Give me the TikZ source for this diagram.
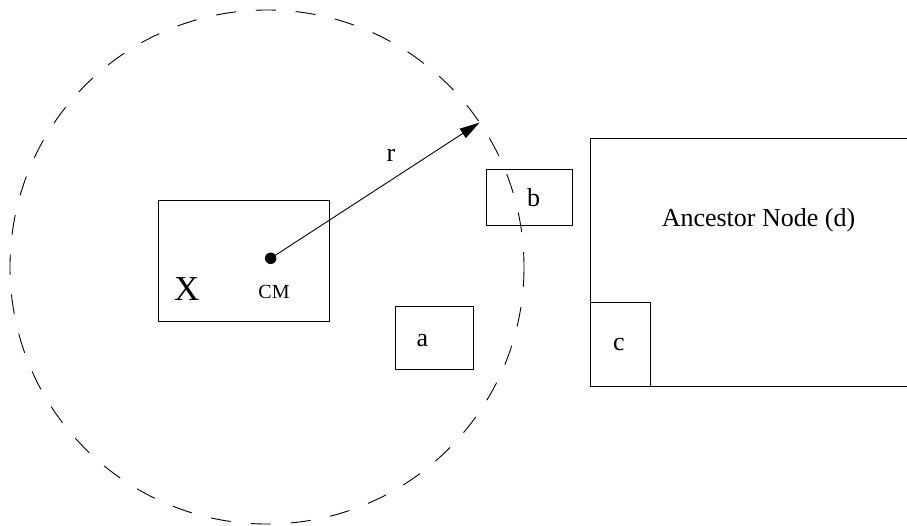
\documentclass[tikz,border=0pt]{standalone}
\usepackage{fontspec}
\setmainfont{Liberation Serif}
\usetikzlibrary{arrows.meta,calc}
\tikzset{
  box/.style={draw, line width=0.9pt, rectangle, inner sep=0pt, outer sep=0pt},
  lbl/.style={anchor=base, inner sep=0pt, font=\fontsize{26}{30}\selectfont},
  reachcircle/.style={draw, line width=0.9pt, dash pattern=on 20pt off 20pt},
  radiusarrow/.style={line width=0.9pt, -{Triangle[length=20pt,width=11pt]}},
}
\begin{document}
\begin{tikzpicture}[x=1pt,y=-1pt]
  \useasboundingbox (0,0) rectangle (907,525);
  \clip (0,0) rectangle (907,525);

  % neighbourhood of radius r around the centre of mass
  \coordinate (O) at (267,267);
  \draw[reachcircle] (O) circle[radius=257];
  \coordinate (rim) at ($(O)+(-34.2:257)$);

  % body X with its centre of mass
  \node[box, minimum width=171pt, minimum height=120.5pt] (Xbox) at (243.6,260.8) {};
  \node[lbl, font=\fontsize{35}{40}\selectfont] (Xlbl) at (186.7,300.7) {X};
  \node[lbl, font=\fontsize{20}{24}\selectfont] (CMlbl) at (274,298.3) {CM};
  \node[circle, fill, inner sep=0pt, minimum size=11.5pt] (cm) at (270.7,258.3) {};

  % radius
  \draw[radiusarrow] (cm.center) -- (rim);
  \node[lbl] (rlbl) at (391,161) {r};

  % nearby nodes
  \node[box, minimum width=77.6pt, minimum height=63.3pt] (abox) at (434.5,337.7) {};
  \node[lbl] (albl) at (422.3,346.7) {a};
  \node[box, minimum width=85.6pt, minimum height=56.4pt] (bbox) at (529.5,197.5) {};
  \node[lbl] (blbl) at (533.5,206.7) {b};

  % ancestor node d with its child c
  \draw[line width=0.9pt] (910,138.3) -- (590,138.3) -- (590,386) -- (910,386);
  \node[lbl] (dlbl) at (758.5,226.7) {Ancestor Node (d)};
  \node[box, minimum width=60pt, minimum height=83.7pt] (cbox) at (620,344.15) {};
  \node[lbl] (clbl) at (619,350) {c};
\end{tikzpicture}
\end{document}
